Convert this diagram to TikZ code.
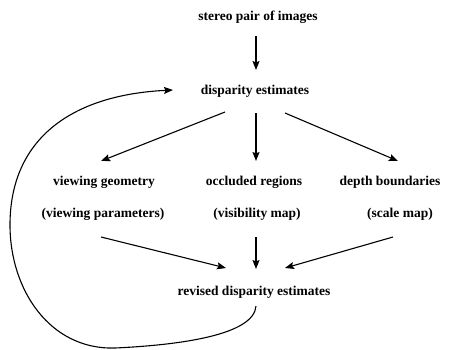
\documentclass[tikz,border=0pt]{standalone}
\usepackage{fontspec}
\setmainfont{Liberation Serif}
\usetikzlibrary{arrows.meta}
\tikzset{
  lbl/.style={inner sep=0pt, font=\fontsize{13.5}{15}\selectfont\bfseries},
  arr/.style={line width=1.1pt, -{Stealth[length=9pt,width=7pt,inset=1.5pt]}}
}
\begin{document}
\begin{tikzpicture}[x=1pt,y=-1pt]
\useasboundingbox (0,0) rectangle (458,349);
% text nodes
\node[lbl] (top) at (258,17) {stereo pair of images};
\node[lbl] (disp) at (255,91) {disparity estimates};
\node[lbl] (vg) at (104,182) {viewing geometry};
\node[lbl] (vp) at (103,214) {(viewing parameters)};
\node[lbl] (occ) at (254,182) {occluded regions};
\node[lbl] (vis) at (257,214) {(visibility map)};
\node[lbl] (db) at (390,182) {depth boundaries};
\node[lbl] (sm) at (400,214) {(scale map)};
\node[lbl] (rev) at (254,292) {revised disparity estimates};
% connector end points
\coordinate (a1s) at (256,36);  \coordinate (a1e) at (256,70);
\coordinate (a2s) at (225,112); \coordinate (a2e) at (101,161);
\coordinate (a3s) at (256,113); \coordinate (a3e) at (256,161);
\coordinate (a4s) at (285,113); \coordinate (a4e) at (398,161);
\coordinate (a5s) at (101,237); \coordinate (a5e) at (226,268);
\coordinate (a6s) at (256,237); \coordinate (a6e) at (256,269);
\coordinate (a7s) at (393,237); \coordinate (a7e) at (285,268);
\coordinate (ls) at (256,306);  \coordinate (lb) at (115,348);
\coordinate (ll) at (10,225);   \coordinate (le) at (173,90);
% connectors
\draw[arr] (a1s) -- (a1e);
\draw[arr] (a2s) -- (a2e);
\draw[arr] (a3s) -- (a3e);
\draw[arr] (a4s) -- (a4e);
\draw[arr] (a5s) -- (a5e);
\draw[arr] (a6s) -- (a6e);
\draw[arr] (a7s) -- (a7e);
\draw[arr] (ls) .. controls (254,335) and (180,345) .. (lb)
  .. controls (50,350) and (10,290) .. (ll)
  .. controls (10,140) and (70,95) .. (le);
\end{tikzpicture}
\end{document}
